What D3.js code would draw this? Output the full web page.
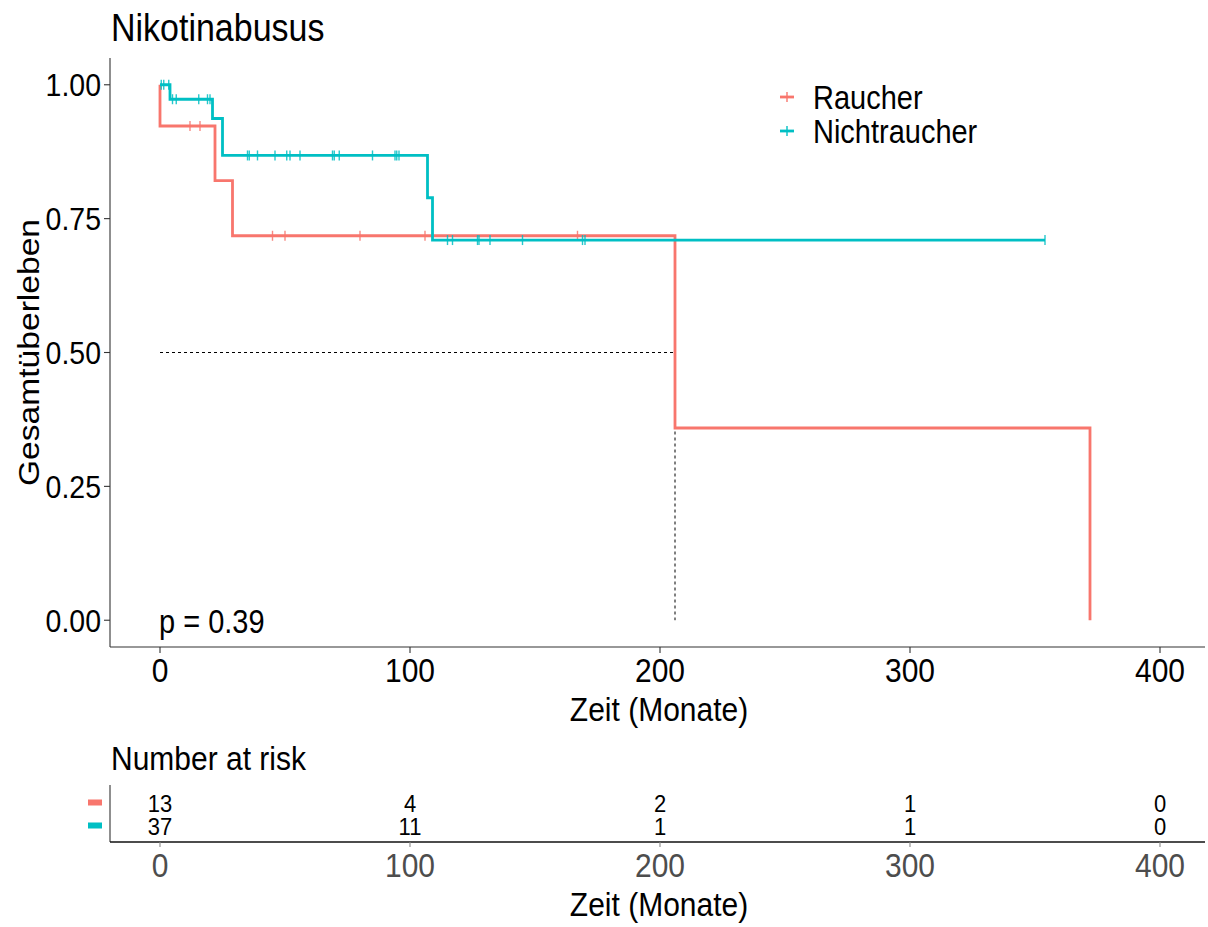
<!DOCTYPE html>
<html>
<head>
<meta charset="utf-8">
<script src="https://cdn.jsdelivr.net/npm/d3@7"></script>
<style>
  html, body { margin: 0; padding: 0; background: #fff; }
  svg text { font-family: "Liberation Sans", Arial, sans-serif; }
</style>
</head>
<body>
<svg id="chart" width="1208" height="927"></svg>
<script>
// Kaplan–Meier curves by smoking status
const groups = ["Raucher", "Nichtraucher"];
const groupColors = ["#F8766D", "#00BFC4"];

// step curves: event times (months) and survival after each step
const raucherTime = [0, 0, 22, 29, 206, 372];
const raucherSurv = [1, 0.923, 0.821, 0.718, 0.359, 0];
const nichtTime = [0, 4, 21, 25, 107, 109, 354];
const nichtSurv = [1, 0.973, 0.937, 0.868, 0.789, 0.710, 0.710];

// censored observations (months)
const raucherCensor = [12, 16, 45, 50, 80, 106, 167];
const nichtCensor = [0.5, 1.5, 3.5, 5, 6.5, 15.5, 19, 20, 35, 35.7, 39, 46, 50.7, 52, 56,
  69, 69.7, 71.7, 85, 94, 94.7, 95.6, 115, 117, 127, 127.6, 132, 145, 169, 170, 354];

// median survival of Raucher
const medianTime = 206;
const medianLevel = 0.5;

const timeBreaks = [0, 100, 200, 300, 400];
const survBreaks = [0, 0.25, 0.5, 0.75, 1];
const survLabels = ["0.00", "0.25", "0.50", "0.75", "1.00"];

// number at risk at each time break
const raucherRisk = [13, 4, 2, 1, 0];
const nichtRisk = [37, 11, 1, 1, 0];

const pLabel = "p = 0.39";

const svg = d3.select("#chart");
const SY = 1.12; // vertical glyph stretch

function txt(g, x, y, s, size, opts = {}) {
  const t = g.append("text")
    .attr("transform", `translate(${x},${y}) scale(1,${SY})` + (opts.rotate ? ` rotate(${opts.rotate})` : ""))
    .attr("font-size", size)
    .attr("fill", opts.fill || "#000")
    .attr("text-anchor", opts.anchor || "start")
    .text(s);
  return t;
}

const x = d3.scaleLinear().domain([-20, 418]).range([110, 1205]);
const y = d3.scaleLinear().domain([-0.05, 1.05]).range([647, 58]);

const axisColor = "#333";

// ---- main panel ----
const main = svg.append("g");

// title
txt(main, 111, 41, "Nikotinabusus", 34);

// y axis
main.append("line").attr("x1", 110).attr("x2", 110).attr("y1", y(1.05)).attr("y2", y(-0.05))
  .attr("stroke", axisColor).attr("stroke-width", 1.1);
survBreaks.forEach((v, i) => {
  main.append("line").attr("x1", 104).attr("x2", 110).attr("y1", y(v)).attr("y2", y(v))
    .attr("stroke", axisColor).attr("stroke-width", 1.1);
  txt(main, 101, y(v) + 0.358 * 28.5 * SY, survLabels[i], 28.5, { anchor: "end" });
});
txt(main, 39, y(0.5), "Gesamtüberleben", 30, { anchor: "middle", rotate: -90 });

// x axis
main.append("line").attr("x1", 110).attr("x2", 1205).attr("y1", 647).attr("y2", 647)
  .attr("stroke", axisColor).attr("stroke-width", 1.1);
timeBreaks.forEach(v => {
  main.append("line").attr("x1", x(v)).attr("x2", x(v)).attr("y1", 647).attr("y2", 653)
    .attr("stroke", axisColor).attr("stroke-width", 1.1);
  txt(main, x(v), 682, String(v), 30, { anchor: "middle" });
});
txt(main, 659, 721, "Zeit (Monate)", 30, { anchor: "middle" });

// median reference lines
main.append("path")
  .attr("d", d3.line()([[x(0), y(medianLevel)], [x(medianTime), y(medianLevel)], [x(medianTime), y(0)]]))
  .attr("fill", "none").attr("stroke", "#000").attr("stroke-width", 1)
  .attr("stroke-dasharray", "3,3");

// survival curves
const series = [
  { time: raucherTime, surv: raucherSurv, censor: raucherCensor },
  { time: nichtTime, surv: nichtSurv, censor: nichtCensor }
];
const stepLine = d3.line().x(d => x(d[0])).y(d => y(d[1])).curve(d3.curveStepAfter);

function survAt(s, t) {
  let v = s.surv[0];
  for (let i = 0; i < s.time.length; i++) if (s.time[i] <= t) v = s.surv[i];
  return v;
}

series.forEach((s, gi) => {
  const pts = s.time.map((t, i) => [t, s.surv[i]]);
  main.append("path").attr("d", stepLine(pts))
    .attr("fill", "none").attr("stroke", groupColors[gi]).attr("stroke-width", 2.8);
  main.append("g").selectAll("line").data(s.censor).join("line")
    .attr("x1", d => x(d)).attr("x2", d => x(d))
    .attr("y1", d => y(survAt(s, d)) - 5).attr("y2", d => y(survAt(s, d)) + 5)
    .attr("stroke", groupColors[gi]).attr("stroke-width", 1.4).attr("opacity", 0.85);
});

// p value
txt(main, 159, 633, pLabel, 29);

// legend
const legY = [97, 131];
groups.forEach((gname, gi) => {
  main.append("line").attr("x1", 780).attr("x2", 794).attr("y1", legY[gi]).attr("y2", legY[gi])
    .attr("stroke", groupColors[gi]).attr("stroke-width", 2.8);
  main.append("line").attr("x1", 787).attr("x2", 787).attr("y1", legY[gi] - 5).attr("y2", legY[gi] + 5)
    .attr("stroke", groupColors[gi]).attr("stroke-width", 1.4);
  txt(main, 813, legY[gi] + 0.358 * 29 * SY, gname, 29);
});

// ---- risk table ----
const risk = svg.append("g");
txt(risk, 111, 770, "Number at risk", 30);
const rowY = d3.scalePoint().domain(groups).range([803, 826]);
risk.append("line").attr("x1", 110).attr("x2", 110).attr("y1", 785).attr("y2", 842)
  .attr("stroke", axisColor).attr("stroke-width", 1.1);
risk.append("line").attr("x1", 110).attr("x2", 1205).attr("y1", 842).attr("y2", 842)
  .attr("stroke", "#111").attr("stroke-width", 1.3);
const riskRows = [raucherRisk, nichtRisk];
groups.forEach((gname, gi) => {
  risk.append("rect").attr("x", 88).attr("y", rowY(gname) - 3.5).attr("width", 14).attr("height", 6)
    .attr("fill", groupColors[gi]);
  riskRows[gi].forEach((n, i) => {
    txt(risk, x(timeBreaks[i]), rowY(gname) + 0.358 * 22 * SY, String(n), 22, { anchor: "middle" });
  });
});
timeBreaks.forEach(v => {
  risk.append("line").attr("x1", x(v)).attr("x2", x(v)).attr("y1", 842).attr("y2", 847)
    .attr("stroke", "#888").attr("stroke-width", 1.1);
  txt(risk, x(v), 877, String(v), 30, { anchor: "middle", fill: "#4D4D4D" });
});
txt(risk, 659, 916, "Zeit (Monate)", 30, { anchor: "middle" });
</script>
</body>
</html>
